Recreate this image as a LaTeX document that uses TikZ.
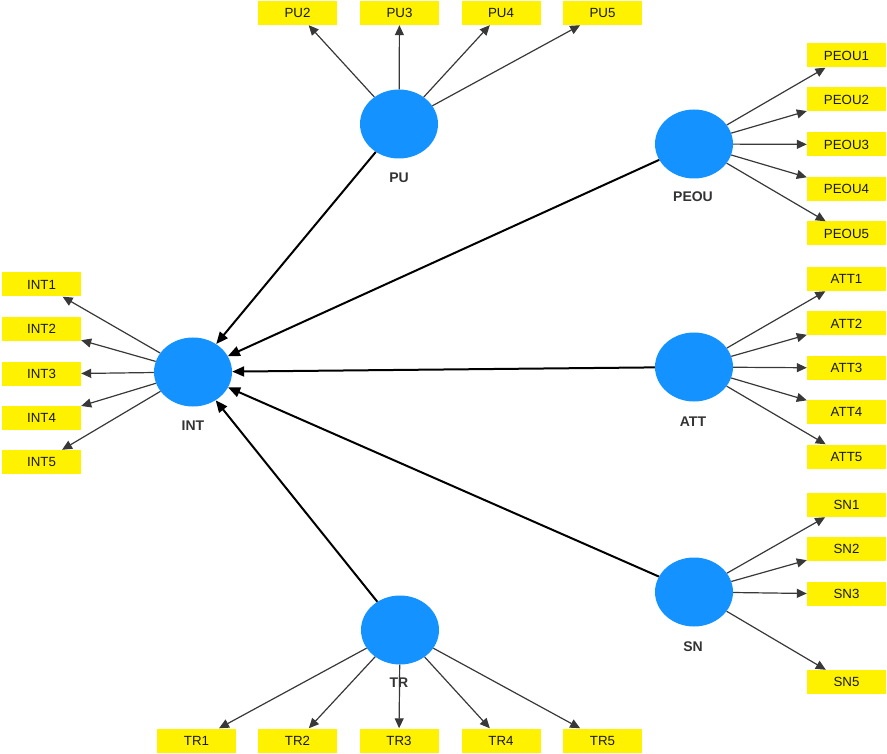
\documentclass[tikz,border=0pt]{standalone}
\usepackage{fontspec}
\setmainfont{Liberation Sans}
\usetikzlibrary{shapes.geometric,arrows.meta}
\definecolor{lvblue}{RGB}{20,146,255}
\begin{document}
\begin{tikzpicture}[x=1pt,y=-1pt,
  lv/.style={ellipse,fill=lvblue,minimum width=78pt,minimum height=69pt,inner sep=0pt},
  ind/.style={fill=yellow,minimum width=79pt,minimum height=24pt,inner sep=0pt,font=\fontsize{13.3}{15}\selectfont,text=black!90},
  lbl/.style={font=\fontsize{14}{16}\selectfont\bfseries,text=black!80},
  pathar/.style={draw=black,line width=2pt,-{Triangle[length=12pt,width=10pt]}},
  loadar/.style={draw=black!78,line width=1.2pt,-{Triangle[length=10pt,width=9pt]}}]
\useasboundingbox (0,0) rectangle (887,754);

% latent variables
\node[lv] (PU) at (399,124) {};
\node[lv] (INT) at (193,372) {};
\node[lv] (PEOU) at (694,144) {};
\node[lv] (ATT) at (694,367) {};
\node[lv] (SN) at (694,592) {};
\node[lv] (TR) at (400,630) {};

% indicators
\node[ind] (PU2) at (297.5,13) {PU2};
\node[ind] (PU3) at (399.5,13) {PU3};
\node[ind] (PU4) at (501,13) {PU4};
\node[ind] (PU5) at (602.5,13) {PU5};

\node[ind] (INT1) at (41.5,284.5) {INT1};
\node[ind] (INT2) at (41.5,329) {INT2};
\node[ind] (INT3) at (41.5,374) {INT3};
\node[ind] (INT4) at (41.5,418) {INT4};
\node[ind] (INT5) at (41.5,462) {INT5};

\node[ind] (PEOU1) at (846.5,55.5) {PEOU1};
\node[ind] (PEOU2) at (846.5,99.5) {PEOU2};
\node[ind] (PEOU3) at (846.5,144.5) {PEOU3};
\node[ind] (PEOU4) at (846.5,189) {PEOU4};
\node[ind] (PEOU5) at (846.5,233.5) {PEOU5};

\node[ind] (ATT1) at (846.5,279) {ATT1};
\node[ind] (ATT2) at (846.5,323.5) {ATT2};
\node[ind] (ATT3) at (846.5,368) {ATT3};
\node[ind] (ATT4) at (846.5,412) {ATT4};
\node[ind] (ATT5) at (846.5,456.5) {ATT5};

\node[ind] (SN1) at (846.5,505) {SN1};
\node[ind] (SN2) at (846.5,549) {SN2};
\node[ind] (SN3) at (846.5,594) {SN3};
\node[ind] (SN5) at (846.5,682) {SN5};

\node[ind] (TR1) at (196.5,740.5) {TR1};
\node[ind] (TR2) at (297.5,740.5) {TR2};
\node[ind] (TR3) at (399,740.5) {TR3};
\node[ind] (TR4) at (501,740.5) {TR4};
\node[ind] (TR5) at (602.5,740.5) {TR5};

% loadings
\foreach \i in {2,3,4,5} \draw[loadar] (PU) -- (PU\i);
\foreach \i in {1,2,3,4,5} \draw[loadar] (INT) -- (INT\i);
\foreach \i in {1,2,3,4,5} \draw[loadar] (PEOU) -- (PEOU\i);
\foreach \i in {1,2,3,4,5} \draw[loadar] (ATT) -- (ATT\i);
\foreach \i in {1,2,3,5} \draw[loadar] (SN) -- (SN\i);
\foreach \i in {1,2,3,4,5} \draw[loadar] (TR) -- (TR\i);

% structural paths
\draw[pathar] (PU) -- (INT);
\draw[pathar] (PEOU) -- (INT);
\draw[pathar] (ATT) -- (INT);
\draw[pathar] (SN) -- (INT);
\draw[pathar] (TR) -- (INT);

% labels
\node[lbl] (lPU) at (399,178) {PU};
\node[lbl] (lINT) at (193,426) {INT};
\node[lbl] (lPEOU) at (693,197) {PEOU};
\node[lbl] (lATT) at (693,422) {ATT};
\node[lbl] (lSN) at (693,647) {SN};
\node[lbl] (lTR) at (399,683) {TR};
\end{tikzpicture}
\end{document}
